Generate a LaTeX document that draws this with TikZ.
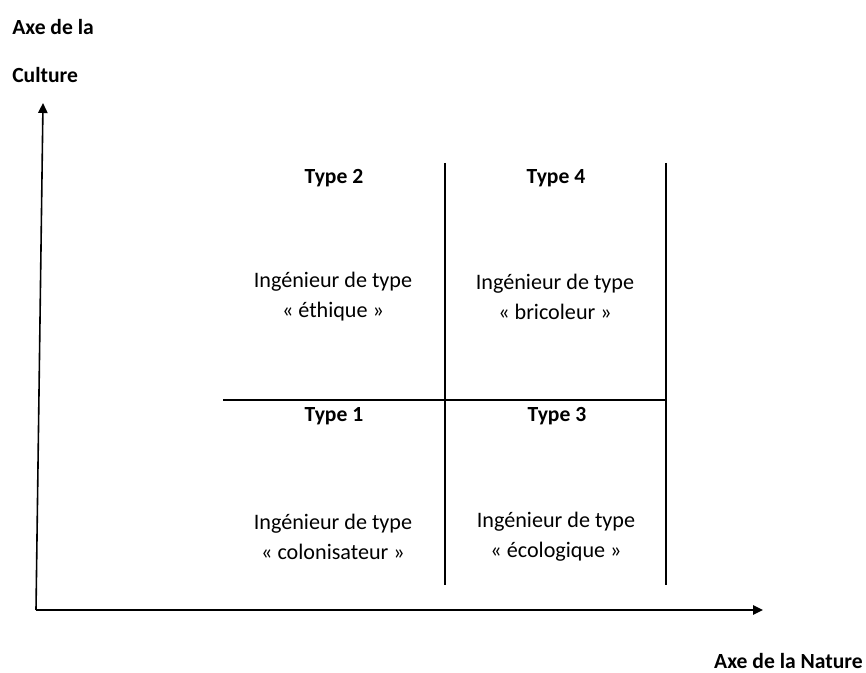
\documentclass[tikz,border=0pt]{standalone}
\usepackage{fontspec}
\setmainfont{Carlito}
\usetikzlibrary{arrows.meta}

\begin{document}
\begin{tikzpicture}[x=0.75pt,y=-0.75pt,
  axis/.style={line width=1.2pt,-{Triangle[length=7.5pt,width=7pt]}},
  grid/.style={line width=0.9pt},
  lbl/.style={font=\fontsize{16.2}{19}\selectfont\bfseries,inner sep=0pt},
  txt/.style={font=\fontsize{16.6}{22.5}\selectfont,align=center,inner sep=0pt}]
\useasboundingbox (0,0) rectangle (866,673);
% axes
\coordinate (O) at (36,610);
\coordinate (Ytip) at (43,103);
\coordinate (Xtip) at (763,610);
\draw[axis] (O)--(Ytip);
\draw[axis] (O)--(Xtip);
\node[lbl,anchor=west] (ycult1) at (12,27) {Axe de la};
\node[lbl,anchor=west] (ycult2) at (12,75) {Culture};
\node[lbl,anchor=east] (xnat) at (863,661) {Axe de la Nature};
% quadrants
\coordinate (Mt) at (445,163);
\coordinate (Mb) at (445,585);
\coordinate (Rt) at (666,163);
\coordinate (Rb) at (666,585);
\coordinate (Hl) at (223,400);
\coordinate (Hr) at (666,400);
\draw[grid] (Mt)--(Mb);
\draw[grid] (Rt)--(Rb);
\draw[grid] (Hl)--(Hr);
\node[lbl] (t2) at (334,178) {Type 2};
\node[lbl] (t4) at (556,178) {Type 4};
\node[lbl] (t1) at (334,416) {Type 1};
\node[lbl] (t3) at (557,416) {Type 3};
\node[txt] (i2) at (333,297) {Ingénieur de type\\« éthique »};
\node[txt] (i4) at (555,297) {Ingénieur de type\\« bricoleur »};
\node[txt] (i1) at (333,537) {Ingénieur de type\\« colonisateur »};
\node[txt] (i3) at (556,537) {Ingénieur de type\\« écologique »};
\end{tikzpicture}
\end{document}
